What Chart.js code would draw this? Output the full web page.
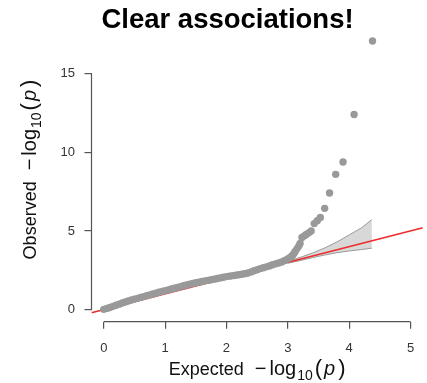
<!DOCTYPE html>
<html>
<head>
<meta charset="utf-8">
<script src="https://cdn.jsdelivr.net/npm/chart.js@4.4.1/dist/chart.umd.min.js"></script>
<style>
  html, body { margin: 0; padding: 0; background: #ffffff; }
  #wrap { width: 427px; height: 383px; }
</style>
</head>
<body>
<div id="wrap"><canvas id="c" width="427" height="383"></canvas></div>
<script>
// ---- Data ----
const titleText = "Clear associations!";
const xTicks = [0, 1, 2, 3, 4, 5];
const yTicks = [0, 5, 10, 15];

// dense body of the QQ cloud (expected, observed)
const expectedDense = [0.00,0.05,0.10,0.15,0.20,0.25,0.30,0.35,0.40,0.45,0.50,0.55,0.60,0.65,0.70,0.75,0.80,0.85,0.90,0.95,
  1.00,1.05,1.10,1.15,1.20,1.25,1.30,1.35,1.40,1.45,1.50,1.55,1.60,1.65,1.70,1.75,1.80,1.85,1.90,1.95,
  2.00,2.05,2.10,2.15,2.20,2.25,2.30,2.35,2.40,2.45,2.50,2.55,2.60,2.65,2.70,2.75,2.80,2.85,2.90,2.95,3.00];
const observedDense = [0.02,0.08,0.14,0.21,0.28,0.35,0.42,0.49,0.55,0.61,0.67,0.72,0.78,0.83,0.89,0.94,1.00,1.05,1.11,1.16,
  1.21,1.26,1.31,1.36,1.41,1.46,1.52,1.57,1.62,1.67,1.71,1.75,1.79,1.83,1.86,1.90,1.94,1.98,2.02,2.06,
  2.10,2.13,2.16,2.19,2.22,2.25,2.29,2.33,2.40,2.47,2.54,2.61,2.66,2.72,2.78,2.85,2.91,2.97,3.03,3.12,3.22];

// upper tail (strongest associations)
const expectedTail = [3.02,3.04,3.06,3.08,3.10,3.12,3.15,3.18,3.20,3.23,3.27,3.30,3.34,3.38,3.43,3.48,3.53,3.60,3.68,3.78,3.90,4.08,4.38];
const observedTail = [3.26,3.32,3.38,3.46,3.58,3.70,3.88,4.05,4.20,4.59,4.69,4.78,4.88,5.00,5.47,5.65,5.86,6.44,7.41,8.60,9.38,12.40,17.07];

// confidence band
const bandX     = [3.00,3.20,3.40,3.60,3.80,4.00,4.20,4.37];
const bandUpper = [3.05,3.32,3.60,3.92,4.30,4.75,5.20,5.72];
const bandLower = [2.95,3.12,3.30,3.47,3.62,3.73,3.82,3.91];

// reference line y = x across the plotting range
const refX = [-0.2, 5.2];
const refY = [-0.2, 5.2];

// ---- build chart ----
const pts = (xs, ys) => xs.map((x, i) => ({ x: x, y: ys[i] }));
const FONT = "'Liberation Sans', Arial, Helvetica, sans-serif";

const rStyle = {
  id: 'rStyle',
  afterDraw(chart) {
    const ctx = chart.ctx;
    const a = chart.chartArea;
    const xs = chart.scales.x, ys = chart.scales.y;
    ctx.save();
    // R-style axis lines spanning first..last tick
    ctx.strokeStyle = '#555';
    ctx.lineWidth = 1.2;
    ctx.beginPath();
    ctx.moveTo(xs.getPixelForValue(xTicks[0]), a.bottom);
    ctx.lineTo(xs.getPixelForValue(xTicks[xTicks.length - 1]), a.bottom);
    ctx.moveTo(a.left, ys.getPixelForValue(yTicks[0]));
    ctx.lineTo(a.left, ys.getPixelForValue(yTicks[yTicks.length - 1]));
    ctx.stroke();

    // main title
    ctx.fillStyle = '#000';
    ctx.font = "bold 27.5px " + FONT;
    ctx.textAlign = 'center';
    ctx.textBaseline = 'alphabetic';
    ctx.fillText(titleText, 227.5, 27.5);

    // axis titles with subscript and italic p
    const f = 18, m = 20;
    function segs(label) {
      return [
        { t: label, font: f + "px " + FONT, dy: 0, after: 11 },
        { t: "\u2212", font: m + "px " + FONT, dy: 0, after: 3 },
        { t: "log", font: m + "px " + FONT, dy: 0, after: 1 },
        { t: "10", font: "14px " + FONT, dy: 5, after: 2 },
        { t: "(", font: (m + 2) + "px " + FONT, dy: 0, after: 2 },
        { t: "p", font: "italic " + m + "px " + FONT, dy: 0, after: 3 },
        { t: ")", font: (m + 2) + "px " + FONT, dy: 0, after: 0 }
      ];
    }
    function drawTitle(list, cx, baseY) {
      let total = 0;
      list.forEach(s => { ctx.font = s.font; s.w = ctx.measureText(s.t).width; total += s.w + s.after; });
      let x = cx - total / 2;
      ctx.textAlign = 'left';
      ctx.textBaseline = 'alphabetic';
      ctx.fillStyle = '#111';
      list.forEach(s => { ctx.font = s.font; ctx.fillText(s.t, x, baseY + s.dy); x += s.w + s.after; });
    }
    drawTitle(segs("Expected"), (a.left + a.right) / 2, 375);
    ctx.save();
    ctx.translate(36, (a.top + a.bottom) / 2);
    ctx.rotate(-Math.PI / 2);
    drawTitle(segs("Observed"), 0, 0);
    ctx.restore();
    ctx.restore();
  }
};

new Chart(document.getElementById('c'), {
  type: 'scatter',
  data: {
    datasets: [
      {
        label: 'band lower',
        data: pts(bandX, bandLower),
        showLine: true,
        pointRadius: 0,
        borderColor: '#9a9a9a',
        borderWidth: 1,
        backgroundColor: 'rgba(190,190,190,0.65)',
        fill: false,
        tension: 0,
        order: 3
      },
      {
        label: 'band upper',
        data: pts(bandX, bandUpper),
        showLine: true,
        pointRadius: 0,
        borderColor: '#9a9a9a',
        borderWidth: 1,
        backgroundColor: 'rgba(200,200,200,0.7)',
        fill: '-1',
        tension: 0,
        order: 3
      },
      {
        label: 'y = x',
        data: pts(refX, refY),
        showLine: true,
        pointRadius: 0,
        borderColor: '#ee2b2b',
        borderWidth: 1.6,
        fill: false,
        order: 2
      },
      {
        label: 'observed',
        data: pts(expectedDense, observedDense).concat(pts(expectedTail, observedTail)),
        pointRadius: 3.7,
        pointBorderWidth: 0,
        pointBackgroundColor: '#999999',
        pointBorderColor: '#999999',
        order: 1
      }
    ]
  },
  options: {
    responsive: false,
    devicePixelRatio: 1,
    animation: false,
    layout: { padding: { left: 0, right: 4.2, top: 8.3, bottom: 0 } },
    plugins: {
      legend: { display: false },
      tooltip: { enabled: false },
      title: { display: false }
    },
    scales: {
      x: {
        type: 'linear',
        min: -0.2,
        max: 5.2,
        afterBuildTicks: s => { s.ticks = xTicks.map(v => ({ value: v })); },
        afterFit: s => { s.height = 61.3; },
        border: { display: false },
        grid: { drawOnChartArea: false, drawTicks: true, tickLength: 7, color: '#555', lineWidth: 1.2 },
        ticks: { color: '#333', font: { size: 13, family: FONT }, padding: 12, maxRotation: 0, autoSkip: false }
      },
      y: {
        type: 'linear',
        min: -0.765,
        max: 18.58,
        afterBuildTicks: s => { s.ticks = yTicks.map(v => ({ value: v })); },
        afterFit: s => { s.width = 91.5; },
        border: { display: false },
        grid: { drawOnChartArea: false, drawTicks: true, tickLength: 7, color: '#555', lineWidth: 1.2 },
        ticks: { color: '#333', font: { size: 13, family: FONT }, padding: 9.5, autoSkip: false }
      }
    }
  },
  plugins: [rStyle]
});
</script>
</body>
</html>
